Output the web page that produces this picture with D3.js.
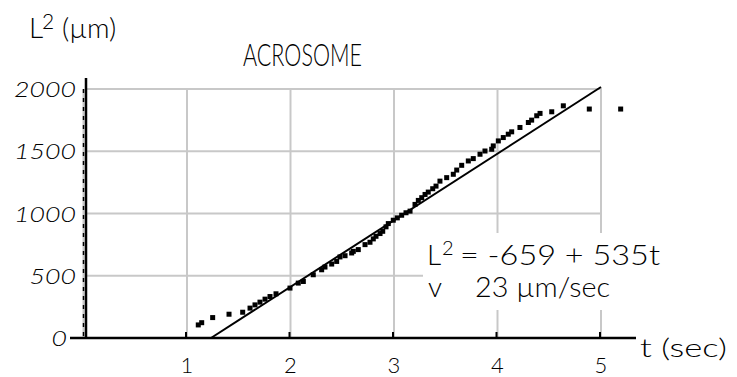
<!DOCTYPE html>
<html>
<head>
<meta charset="utf-8">
<script src="https://cdn.jsdelivr.net/npm/d3@7"></script>
<style>
  html, body { margin: 0; padding: 0; background: #fff; }
  svg { display: block; }
  text { font-family: Lato, "Open Sans", sans-serif; font-weight: 300; fill: #000; }
</style>
</head>
<body>
<div id="chart"></div>
<script>
// data: time (sec) and L^2 (um^2)
const tValues = [1.109, 1.142, 1.248, 1.406, 1.538, 1.609, 1.657, 1.705, 1.754, 1.802,
  1.860, 1.995, 2.075, 2.124, 2.220, 2.301, 2.333, 2.398, 2.446, 2.478,
  2.527, 2.591, 2.607, 2.655, 2.720, 2.768, 2.800, 2.826, 2.865, 2.891,
  2.923, 2.945, 2.993, 3.032, 3.074, 3.116, 3.155, 3.203, 3.235, 3.268,
  3.300, 3.331, 3.374, 3.406, 3.444, 3.509, 3.573, 3.606, 3.654, 3.718,
  3.766, 3.831, 3.879, 3.944, 3.959, 4.008, 4.056, 4.104, 4.137, 4.217,
  4.298, 4.330, 4.379, 4.411, 4.524, 4.636, 4.887, 5.190];
const l2Values = [105, 123, 164, 191, 207, 240, 266, 288, 312, 333,
  355, 401, 441, 454, 508, 548, 570, 594, 615, 651,
  661, 683, 696, 710, 750, 769, 796, 817, 839, 857,
  893, 919, 946, 965, 986, 1006, 1019, 1073, 1105, 1127,
  1153, 1172, 1199, 1220, 1260, 1288, 1315, 1349, 1387, 1422,
  1441, 1476, 1502, 1516, 1543, 1583, 1610, 1637, 1656, 1691,
  1731, 1750, 1785, 1804, 1817, 1865, 1839, 1839];

// regression shown on the chart: L^2 = -659 + 535t
const fitIntercept = -659;
const fitSlope = 535;
const fitRange = [-fitIntercept / fitSlope, 5];

const xTicks = [1, 2, 3, 4, 5];
const yTicks = [0, 500, 1000, 1500, 2000];

const width = 737, height = 377;

const svg = d3.select('#chart').append('svg')
    .attr('width', width)
    .attr('height', height);

const x = d3.scaleLinear().domain([0, 5]).range([83.5, 601]);
const y = d3.scaleLinear().domain([0, 2000]).range([338, 89]);

const gridColor = '#c8c8c8';

// grid
svg.append('g').selectAll('line')
    .data(yTicks.filter(d => d > 0))
    .join('line')
    .attr('x1', 86).attr('x2', x(5))
    .attr('y1', d => y(d)).attr('y2', d => y(d))
    .attr('stroke', gridColor).attr('stroke-width', 2);

svg.append('g').selectAll('line')
    .data(xTicks)
    .join('line')
    .attr('x1', d => x(d)).attr('x2', d => x(d))
    .attr('y1', y(2000) - 1).attr('y2', y(0))
    .attr('stroke', gridColor).attr('stroke-width', 2);

// dotted line along t = 0
svg.append('line')
    .attr('x1', x(0)).attr('x2', x(0))
    .attr('y1', y(2000)).attr('y2', y(0))
    .attr('stroke', gridColor).attr('stroke-width', 2);
svg.append('line')
    .attr('x1', x(0)).attr('x2', x(0))
    .attr('y1', y(2000)).attr('y2', y(0))
    .attr('stroke', '#000').attr('stroke-width', 1.5)
    .attr('stroke-dasharray', '4,5');

// white box behind the equation
svg.append('rect')
    .attr('x', 423).attr('y', 233)
    .attr('width', 245).attr('height', 77)
    .attr('fill', '#fff');

// axes
svg.append('line')
    .attr('x1', 86).attr('x2', 86)
    .attr('y1', 78).attr('y2', y(0) + 1)
    .attr('stroke', '#000').attr('stroke-width', 2.5);
svg.append('line')
    .attr('x1', 70).attr('x2', 636)
    .attr('y1', y(0)).attr('y2', y(0))
    .attr('stroke', '#000').attr('stroke-width', 2.5);

svg.append('g').selectAll('line')
    .data(xTicks)
    .join('line')
    .attr('x1', d => x(d) - 1).attr('x2', d => x(d) - 1)
    .attr('y1', y(0) - 6).attr('y2', y(0))
    .attr('stroke', '#000').attr('stroke-width', 2);

// tick labels
svg.append('g').selectAll('text')
    .data(xTicks)
    .join('text')
    .attr('x', d => x(d))
    .attr('y', 373)
    .attr('text-anchor', 'middle')
    .attr('font-size', 22)
    .text(d => d);

svg.append('g').selectAll('text')
    .data(yTicks)
    .join('text')
    .attr('x', d => d === 0 ? 67 : 76)
    .attr('y', d => y(d) + 8)
    .attr('text-anchor', 'end')
    .attr('font-size', 22)
    .attr('font-style', 'italic')
    .attr('textLength', d => String(d).length * 15.5)
    .attr('lengthAdjust', 'spacingAndGlyphs')
    .text(d => d);

// fitted line
svg.append('line')
    .attr('x1', x(fitRange[0])).attr('y1', y(fitIntercept + fitSlope * fitRange[0]))
    .attr('x2', x(fitRange[1])).attr('y2', y(fitIntercept + fitSlope * fitRange[1]))
    .attr('stroke', '#000').attr('stroke-width', 2);

// points
const pts = tValues.map((t, i) => ({ t: t, l: l2Values[i] }));
svg.append('g').selectAll('rect')
    .data(pts)
    .join('rect')
    .attr('x', d => x(d.t) - 2.5)
    .attr('y', d => y(d.l) - 2.5)
    .attr('width', 5).attr('height', 5)
    .attr('fill', '#000');

// title and axis titles
svg.append('text')
    .attr('x', 243).attr('y', 66)
    .attr('font-size', 31)
    .attr('textLength', 119).attr('lengthAdjust', 'spacingAndGlyphs')
    .text('ACROSOME');

const yTitle = svg.append('text').attr('x', 29).attr('y', 38).attr('font-size', 28);
yTitle.append('tspan').text('L');
yTitle.append('tspan').attr('x', 42).attr('y', 29).attr('font-size', 21).text('2');
yTitle.append('tspan').attr('x', 62).attr('y', 38).text('(µm)');

svg.append('text')
    .attr('x', 640).attr('y', 357)
    .attr('font-size', 25)
    .attr('textLength', 87).attr('lengthAdjust', 'spacingAndGlyphs')
    .text('t (sec)');

// equation
const eq1 = svg.append('text').attr('x', 427).attr('y', 265).attr('font-size', 28);
eq1.append('tspan').text('L');
eq1.append('tspan').attr('x', 442).attr('y', 255).attr('font-size', 20).text('2');
eq1.append('tspan').attr('x', 460).attr('y', 265)
    .attr('textLength', 200).attr('lengthAdjust', 'spacingAndGlyphs')
    .text('= -659 + 535t');

const eq2 = svg.append('text').attr('x', 428).attr('y', 297).attr('font-size', 28);
eq2.append('tspan').text('v');
eq2.append('tspan').attr('x', 475)
    .attr('textLength', 135).attr('lengthAdjust', 'spacingAndGlyphs')
    .text('23 µm/sec');
</script>
</body>
</html>
